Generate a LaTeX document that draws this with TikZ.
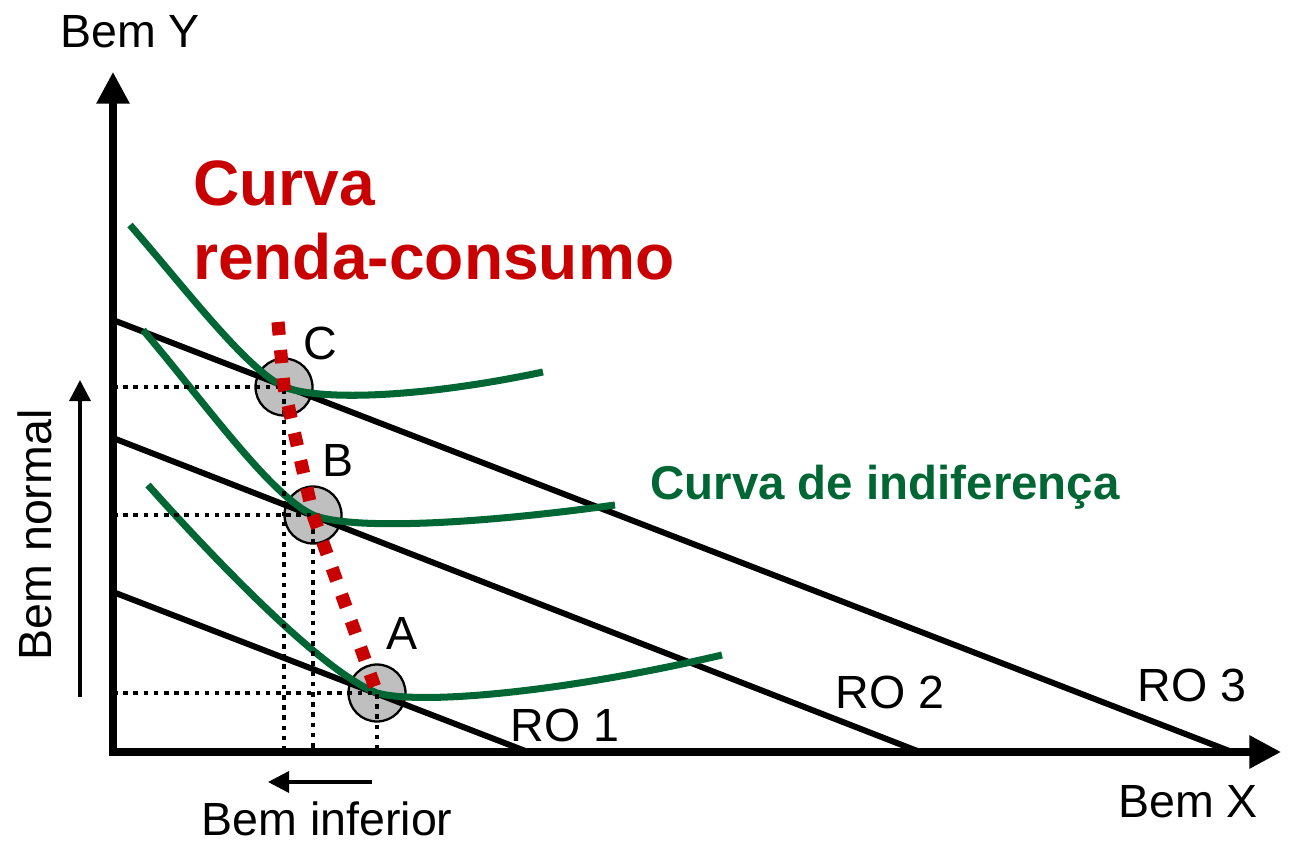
\documentclass[tikz,border=0pt]{standalone}
\usepackage{fontspec}
\setmainfont{Liberation Sans}
\usetikzlibrary{arrows.meta}
\definecolor{icgreen}{RGB}{0,102,51}
\definecolor{rcred}{RGB}{200,0,0}
\begin{document}
\begin{tikzpicture}[x=0.02cm,y=0.02cm,
    lbl/.style={font=\fontsize{26.5}{32}\selectfont},
    axis/.style={line width=4pt,line join=miter,{Triangle[length=18pt,width=18pt]}-{Triangle[length=18pt,width=18pt]}},
    budget/.style={line width=3.4pt},
    point/.style={circle,draw,line width=1.3pt,fill=black!25,minimum size=1.14cm,inner sep=0},
    indiff/.style={icgreen,line width=4pt},
    guide/.style={line width=2.1pt,dash pattern=on 2.6pt off 3.2pt},
    rcc/.style={rcred,line width=7.5pt,dash pattern=on 7.5pt off 8.5pt},
    small arrow/.style={line width=2pt,-{Triangle[length=12pt,width=12pt]}}]
  \useasboundingbox (0,0) rectangle (1289,843);

  \coordinate (O) at (113,91);
  \coordinate (ytop) at (113,771);
  \coordinate (xend) at (1281,91);

  \coordinate (r1y) at (113,251);
  \coordinate (r1x) at (528,91);
  \coordinate (r2y) at (113,405);
  \coordinate (r2x) at (920,91);
  \coordinate (r3y) at (113,523);
  \coordinate (r3x) at (1232,91);

  \node (C) at (284,456) [point]{};
  \node (B) at (313,328) [point]{};
  \node (A) at (377,150) [point]{};

  \draw[axis] (ytop) -- (O) -- (xend);

  \draw[budget] (r1y) -- (r1x);
  \draw[budget] (r2y) -- (r2x);
  \draw[budget] (r3y) -- (r3x);

  % curvas de indiferenca
  \draw[indiff] (130,618) .. controls (185,555) and (245,475) .. (C.center)
                          .. controls (320,442) and (420,445) .. (543,471);
  \draw[indiff] (143,513) .. controls (205,440) and (270,348) .. (B.center)
                          .. controls (350,313) and (470,318) .. (615,338);
  \draw[indiff] (148,358) .. controls (225,272) and (325,170) .. (A.center)
                          .. controls (420,138) and (560,150) .. (722,188);

  \draw[guide] (O |- C) -- (C.center) -- (C |- O);
  \draw[guide] (O |- B) -- (B.center) -- (B |- O);
  \draw[guide] (O |- A) -- (A.center) -- (A |- O);

  \coordinate (rtop) at (278,521);
  \draw[rcc] (rtop) -- (C.center) -- (B.center) -- (A.center);

  \node (lC) at (320,500) [lbl]{C};
  \node (lB) at (338,383) [lbl]{B};
  \node (lA) at (402,210) [lbl]{A};

  \node (ro1) at (565,118) [lbl]{RO 1};
  \node (ro2) at (890,151) [lbl]{RO 2};
  \node (ro3) at (1192,158) [lbl]{RO 3};

  \node (bemy) at (130,811) [lbl]{Bem Y};
  \node (bemx) at (1188,41) [lbl]{Bem X};

  \node (rc) at (187,688) [anchor=north west,align=left,text=rcred,
        font=\fontsize{36.5}{42}\selectfont\bfseries]{Curva\\renda-consumo};
  \node (ic) at (885,356) [text=icgreen,font=\fontsize{27}{32}\selectfont\bfseries]{Curva de indiferença};

  \coordinate (nb) at (80,146);
  \coordinate (nt) at (80,463);
  \draw[small arrow] (nb) -- (nt);
  \node (normal) at (35,308) [lbl,rotate=90]{Bem normal};

  \coordinate (ib) at (372,61);
  \coordinate (it) at (268,61);
  \draw[small arrow] (ib) -- (it);
  \node (inferior) at (327,24) [lbl]{Bem inferior};
\end{tikzpicture}
\end{document}
